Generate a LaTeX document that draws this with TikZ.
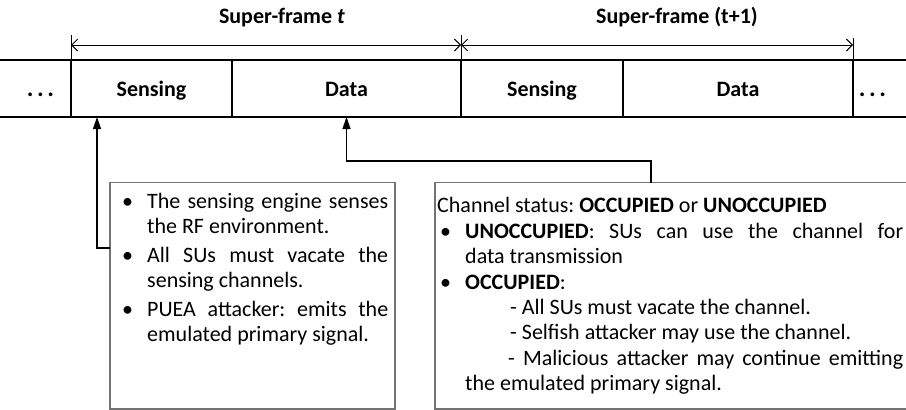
\documentclass[tikz,border=0pt]{standalone}
\usepackage{fontspec}
\setmainfont{Carlito}
\usepackage{enumitem}
\usetikzlibrary{arrows.meta,positioning}

\begin{document}
\begin{tikzpicture}[x=1pt,y=-1pt,
    font=\fontsize{22}{25}\selectfont,
    cell/.style={draw,line width=1.3pt,minimum height=57pt,inner sep=0pt,outer sep=0pt,
      text height=17pt,text depth=2pt,font=\fontsize{22}{25}\selectfont\bfseries},
    infobox/.style={draw=black!55,line width=1.3pt,inner sep=0pt,outer sep=0pt,anchor=north west},
    boxtext/.style={inner sep=0pt,anchor=north west,align=justify},
    ptr/.style={-{Triangle[length=12pt,width=8pt]},line width=1.3pt},
    dim/.style={{Straight Barb[length=6pt,width=12pt]}-{Straight Barb[length=6pt,width=12pt]},line width=1pt},
    title/.style={anchor=base,font=\fontsize{22}{25}\selectfont\bfseries}]
  \useasboundingbox (0,0) rectangle (906,410);
  \clip (0,0) rectangle (906,410);
  \frenchspacing

  % titles
  \node[title] (tl1) at (282,23) {Super-frame \textit{t}};
  \node[title] (tl2) at (677,23) {Super-frame (t+1)};

  % time line
  \draw[line width=1.3pt] (0,60) -- (906,60);
  \draw[line width=1.3pt] (0,117) -- (906,117);
  \node[cell,minimum width=161pt,anchor=north west] (sense1) at (71,60) {Sensing};
  \node[cell,minimum width=229pt,right=0pt of sense1] (data1) {Data};
  \node[cell,minimum width=162pt,right=0pt of data1] (sense2) {Sensing};
  \node[cell,minimum width=230pt,right=0pt of sense2] (data2) {Data};
  \node[cell,draw=none,minimum width=71pt,left=0pt of sense1,xshift=5pt] (dotsL) {\fontsize{25}{25}\selectfont.\kern3.5pt.\kern3.5pt.};
  \node[cell,draw=none,minimum width=53pt,right=0pt of data2,xshift=-7pt] (dotsR) {\fontsize{25}{25}\selectfont.\kern3.5pt.\kern3.5pt.};

  % super-frame marks
  \draw[line width=1pt] (sense1.north west) -- ++(0,-25) coordinate (m0);
  \draw[line width=1pt] (sense2.north west) -- ++(0,-25) coordinate (m1);
  \draw[line width=1pt] (data2.north east) -- ++(0,-22) coordinate (m2);
  \coordinate (d0) at ([yshift=15pt]sense1.north west);
  \coordinate (d1) at ([yshift=15pt]sense2.north west);
  \coordinate (d2) at ([yshift=15pt]data2.north east);
  \draw[dim] (d0) -- (d1);
  \draw[dim] (d1) -- (d2);

  % notes
  \node[infobox,minimum width=285pt,minimum height=226.5pt] (lbox) at (110,182.5) {};
  \node[boxtext,text width=266pt] (ltext) at ([xshift=12pt,yshift=0pt]lbox.north west) {%
    \fontsize{22}{25.5}\selectfont
    \begin{itemize}[label=\textbullet,leftmargin=25pt,labelindent=0pt,labelwidth=25pt,labelsep=0pt,
      align=left,topsep=0pt,partopsep=0pt,parsep=0pt,itemsep=3pt]
    \item The sensing engine senses\linebreak the RF environment.
    \item All SUs must vacate the\linebreak sensing channels.
    \item PUEA attacker: emits the\linebreak emulated primary signal.
    \end{itemize}};

  \node[infobox,minimum width=480pt,minimum height=226.5pt] (rbox) at (435,182.5) {};
  \node[boxtext,text width=466pt] (rtext) at ([xshift=2pt,yshift=-15pt]rbox.north west) {%
    \fontsize{22}{25.4}\selectfont
    Channel status: \textbf{OCCUPIED} or \textbf{UNOCCUPIED}
    \begin{itemize}[label=\textbullet,leftmargin=28pt,labelindent=3pt,labelwidth=25pt,labelsep=0pt,
      align=left,topsep=0pt,partopsep=0pt,parsep=0pt,itemsep=0pt]
    \item \textbf{UNOCCUPIED}: SUs can use the channel for\linebreak data transmission
    \item \textbf{OCCUPIED}:\par
      \hspace*{45pt}- All SUs must vacate the channel.\par
      \hspace*{45pt}- Selfish attacker may use the channel.\par
      \hspace*{43pt}- Malicious attacker may continue emitting\linebreak the emulated primary signal.
    \end{itemize}};

  % pointers
  \draw[ptr] ([yshift=47.75pt]lbox.west) -| ([xshift=26pt]sense1.south west);
  \draw[ptr] ([xshift=216pt]rbox.north west) -- ++(0,-21.5) -| (data1.south);
\end{tikzpicture}
\end{document}
